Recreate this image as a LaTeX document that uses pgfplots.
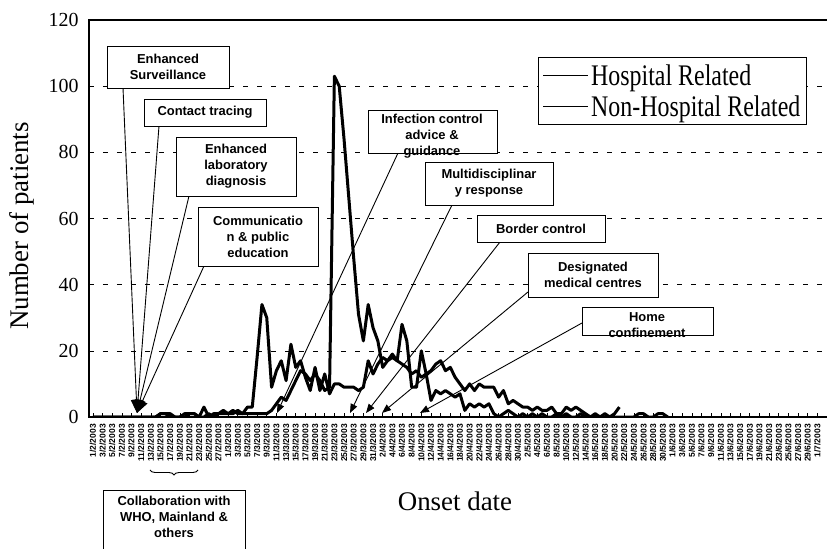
\documentclass[border=0pt]{standalone}
\usepackage{fontspec}
\setmainfont{Liberation Serif}
\setsansfont{Liberation Sans}
\usepackage{pgfplots}
\usepackage{pgfplotstable}
\pgfplotsset{compat=1.18}
\usetikzlibrary{arrows.meta,decorations.pathreplacing}

\pgfplotstableread{
day n
0 0
1 0
2 0
3 0
4 0
5 0
6 0
7 0
8 0
9 0
10 0
11 0
12 0
13 0
14 1
15 1
16 1
17 0
18 0
19 1
20 1
21 1
22 0
23 3
24 0
25 1
26 1
27 1
28 1
29 2
30 1
31 1
32 3
33 3
34 18
35 34
36 30
37 9
38 14
39 17
40 11
41 22
42 15
43 17
44 12
45 8
46 15
47 8
48 13
49 7
50 10
51 10
52 9
53 9
54 9
55 8
56 9
57 17
58 13
59 16
60 18
61 17
62 19
63 17
64 16
65 15
66 13
67 14
68 12
69 13
70 14
71 16
72 17
73 14
74 15
75 12
76 10
77 8
78 10
79 8
80 10
81 9
82 9
83 9
84 6
85 8
86 4
87 5
88 4
89 3
90 3
91 2
92 3
93 2
94 2
95 3
96 1
97 1
98 3
99 2
100 3
101 2
102 1
103 0
104 1
105 0
106 1
107 0
108 1
109 3
}\hosp

\pgfplotstableread{
day n
0 0
1 0
2 0
3 0
4 0
5 0
6 0
7 0
8 0
9 0
10 0
11 0
12 0
13 0
14 1
15 1
16 0
17 0
18 0
19 0
20 1
21 1
22 0
23 0
24 1
25 0
26 1
27 2
28 1
29 1
30 2
31 1
32 1
33 1
34 1
35 1
36 1
37 2
38 4
39 6
40 5
41 8
42 11
43 14
44 13
45 11
46 13
47 11
48 8
49 9
50 103
51 100
52 84
53 66
54 48
55 31
56 23
57 34
58 27
59 23
60 15
61 17
62 18
63 17
64 28
65 23
66 9
67 9
68 20
69 13
70 5
71 8
72 7
73 8
74 7
75 6
76 7
77 2
78 4
79 3
80 4
81 3
82 4
83 1
84 0
85 1
86 2
87 1
88 0
89 1
90 0
91 1
92 0
93 1
94 0
95 0
96 1
97 0
98 1
99 0
100 0
101 1
102 0
103 0
104 0
105 0
106 0
107 0
108 0
109 0
110 0
111 0
112 0
113 1
114 1
115 0
116 0
117 1
118 1
119 0
}\nonhosp

\begin{document}
\begin{tikzpicture}
\begin{axis}[
  name=ax,
  scale only axis,
  width=740bp, height=397bp,
  xmin=-0.8, xmax=152.4, ymin=0, ymax=120,
  ytick={0,20,...,120},
  ymajorgrids,
  grid style={black, line width=0.6bp, dash pattern=on 5bp off 9bp},
  xtick={0,2,...,150},
  xticklabels={1/2/2003,3/2/2003,5/2/2003,7/2/2003,9/2/2003,11/2/2003,13/2/2003,15/2/2003,17/2/2003,19/2/2003,21/2/2003,23/2/2003,25/2/2003,27/2/2003,
    1/3/2003,3/3/2003,5/3/2003,7/3/2003,9/3/2003,11/3/2003,13/3/2003,15/3/2003,17/3/2003,19/3/2003,21/3/2003,23/3/2003,25/3/2003,27/3/2003,29/3/2003,31/3/2003,
    2/4/2003,4/4/2003,6/4/2003,8/4/2003,10/4/2003,12/4/2003,14/4/2003,16/4/2003,18/4/2003,20/4/2003,22/4/2003,24/4/2003,26/4/2003,28/4/2003,30/4/2003,
    2/5/2003,4/5/2003,6/5/2003,8/5/2003,10/5/2003,12/5/2003,14/5/2003,16/5/2003,18/5/2003,20/5/2003,22/5/2003,24/5/2003,26/5/2003,28/5/2003,30/5/2003,
    1/6/2003,3/6/2003,5/6/2003,7/6/2003,9/6/2003,11/6/2003,13/6/2003,15/6/2003,17/6/2003,19/6/2003,21/6/2003,23/6/2003,25/6/2003,27/6/2003,29/6/2003,
    1/7/2003},
  xticklabel style={rotate=90, anchor=east, inner sep=0pt, font=\fontsize{8.5}{8.5}\sffamily\bfseries},
  xticklabel shift=7bp,
  yticklabel style={font=\fontsize{20}{20}\selectfont, xshift=-7bp},
  /pgf/number format/assume math mode=true,
  xtick pos=bottom, ytick pos=left,
  tick align=inside, major tick length=4bp,
  tick style={black, line width=0.6bp},
  axis line style={line width=1.2bp},
  legend style={at={(0.607,0.907)}, anchor=north west, draw=black, line width=0.8bp, fill=white,
    font=\fontsize{24}{26}\selectfont, inner xsep=4bp, inner ysep=5bp, row sep=5bp, cells={anchor=west}},
  legend image code/.code={\draw[black, line width=1.6bp] (0bp,0bp) -- (45bp,0bp);},
]
\addplot[black, line width=3bp, line join=round] table[x=day, y=n] {\hosp};
\addplot[black, line width=3bp, line join=round] table[x=day, y=n] {\nonhosp};
\legend{\scalebox{1}[1.25]{Hospital Related}, \scalebox{1}[1.25]{Non-Hospital Related}}
\end{axis}

\begin{scope}[shift={(ax.north west)}, x=1bp, y=-1bp]
\begin{scope}[shift={(-89,-20)}]
  \tikzset{
    box/.style={draw=black, line width=0.9bp, fill=white},
    lab/.style={font=\fontsize{13}{16}\sffamily\bfseries, align=center, inner sep=0pt},
    ln/.style={draw=black, line width=0.9bp, -{Triangle[length=9bp,width=7bp]}},
    bln/.style={draw=black, line width=0.9bp, -{Triangle[length=13bp,width=11bp]}}
  }
  % axis titles
  \node[rotate=90, font=\fontsize{27}{27}\selectfont] at (22,226) {Number of patients};
  \node[font=\fontsize{27}{27}\selectfont] at (455,501) {Onset date};

  % early measures bundle
  \draw[bln] (123,88) -- (137,413);
  \draw[bln] (159,126) -- (137,413);
  \draw[bln] (189,196) -- (137,413);
  \draw[bln] (204,266) -- (137,413);
  \path[box] (107,46) rectangle (229,88);
  \node[lab] at (168,67) {Enhanced\\Surveillance};
  \path[box] (144,99) rectangle (266,126);
  \node[lab] at (205,112.5) {Contact tracing};
  \path[box] (176,137) rectangle (296,196);
  \node[lab] at (236,166.5) {Enhanced\\laboratory\\diagnosis};
  \path[box] (198,207) rectangle (318,266);
  \node[lab] at (258,236.5) {Communicatio\\n \& public\\education};

  % later measures
  \draw[ln] (398,153) -- (277,413);
  \draw[ln] (452,205) -- (350,413);
  \draw[ln] (500,242) -- (366,413);
  \draw[ln] (528,292) -- (382,413);
  \draw[ln] (582,323) -- (420,413);
  \path[box] (368,110) rectangle (497,153);
  \node[lab, anchor=north] at (432,114) {Infection control\\advice \&\\guidance};
  \path[box] (425,162) rectangle (553,205);
  \node[lab] at (489,183.5) {Multidisciplinar\\y response};
  \path[box] (477,215) rectangle (605,242);
  \node[lab] at (541,228.5) {Border control};
  \path[box] (528,253) rectangle (658,297);
  \node[lab] at (593,275) {Designated\\medical centres};
  \path[box] (582,307) rectangle (713,335);
  \node[lab, anchor=north] at (647,312) {Home\\confinement};

  % collaboration
  \draw[line width=0.9bp, decorate, decoration={brace, mirror, amplitude=5bp}] (150,470) -- (198,470);
  \path[box] (103,490) rectangle (245,560);
  \node[lab, anchor=north] at (174,496) {Collaboration with\\WHO, Mainland \&\\others};

  \pgfresetboundingbox
  \path[use as bounding box] (0,0) rectangle (827,549);
\end{scope}
\end{scope}
\end{tikzpicture}
\end{document}
